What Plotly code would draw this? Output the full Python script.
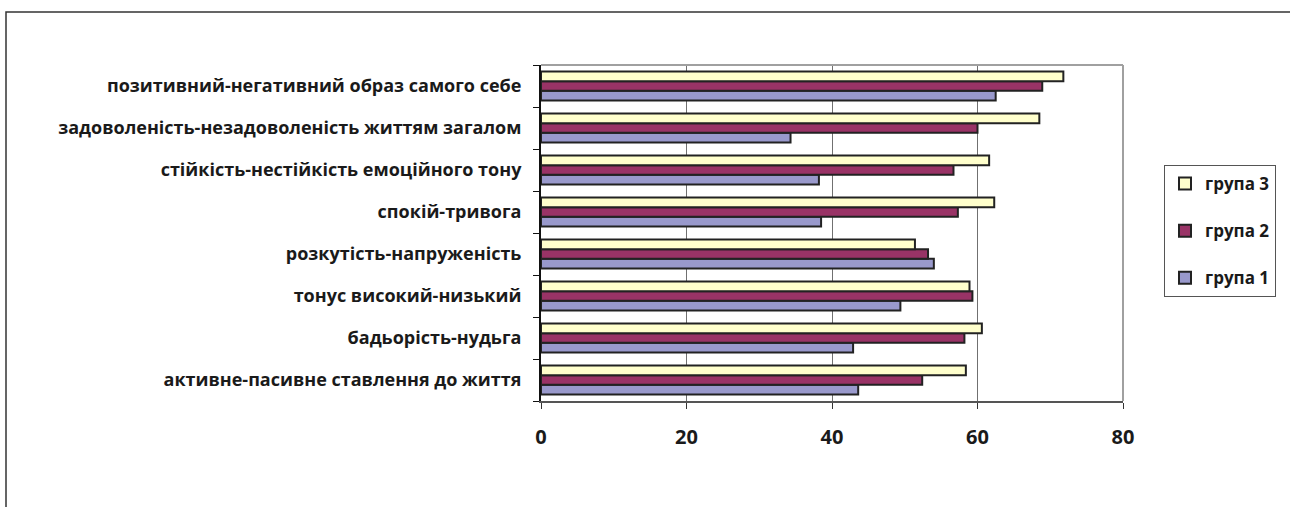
import plotly.graph_objects as go

categories = [
    "активне-пасивне ставлення до життя",
    "бадьорість-нудьга",
    "тонус високий-низький",
    "розкутість-напруженість",
    "спокій-тривога",
    "стійкість-нестійкість емоційного тону",
    "задоволеність-незадоволеність життям загалом",
    "позитивний-негативний образ самого себе",
]
group1 = [43.6, 42.9, 49.4, 54.0, 38.5, 38.2, 34.3, 62.5]
group2 = [52.4, 58.2, 59.3, 53.2, 57.3, 56.7, 60.0, 68.9]
group3 = [58.4, 60.6, 58.9, 51.4, 62.3, 61.6, 68.5, 71.8]
series_names = ["група 1", "група 2", "група 3"]
series_colors = ["#9999CC", "#993366", "#FFFFCC"]
x_ticks = [0, 20, 40, 60, 80]

FONT = "Open Sans"
fig = go.Figure()
for i, (name, vals, col) in enumerate(zip(series_names, [group1, group2, group3], series_colors)):
    fig.add_trace(go.Bar(
        y=categories, x=vals, name=name, orientation="h",
        marker=dict(color=col, line=dict(color="#222222", width=2)),
        legendgroup=name, legendrank=3 - i,
    ))

L, R, T, B = 541, 167, 65, 106
PW, PH = 1290 - L - R, 507 - T - B

fig.update_layout(
    width=1290, height=507,
    margin=dict(l=L, r=R, t=T, b=B, pad=0),
    barmode="group", bargap=0.31, bargroupgap=0,
    plot_bgcolor="white", paper_bgcolor="white",
    font=dict(family=FONT, color="#1a1a1a"),
    legend=dict(
        x=(1164 - L) / PW, y=(401 - 165) / PH, xanchor="left", yanchor="top",
        traceorder="grouped", tracegroupgap=22,
        bordercolor="#555555", borderwidth=1,
        font=dict(size=17, family=FONT, weight="bold"),
        itemwidth=30,
    ),
    xaxis=dict(
        range=[0, 80], tickvals=x_ticks, showgrid=True, gridcolor="#707070", gridwidth=1,
        showline=True, linecolor="#555555", linewidth=2, mirror=False,
        ticks="outside", ticklen=6, tickcolor="#333333",
        tickfont=dict(size=20, family=FONT, weight="bold"), zeroline=False,
        ticklabelstandoff=11,
    ),
    yaxis=dict(
        type="category", categoryorder="array", categoryarray=categories,
        showline=True, linecolor="#111111", linewidth=2,
        ticks="outside", ticklen=6, tickcolor="#111111", tickson="boundaries",
        tickfont=dict(size=18, family=FONT, weight="bold"), showgrid=False,
        ticklabelstandoff=14,
    ),
    shapes=[
        dict(type="line", xref="paper", yref="paper", x0=0, x1=1, y0=1, y1=1,
             line=dict(color="#A0A0A0", width=2)),
        dict(type="line", xref="paper", yref="paper", x0=1, x1=1, y0=0, y1=1,
             line=dict(color="#A0A0A0", width=2)),
        dict(type="rect", xref="paper", yref="paper",
             x0=(6 - L) / PW, x1=2.0, y0=-1.0, y1=(401 - 12) / PH,
             line=dict(color="#333333", width=1.5), fillcolor="rgba(0,0,0,0)", layer="below"),
    ],
)

fig.write_html("out.html")
